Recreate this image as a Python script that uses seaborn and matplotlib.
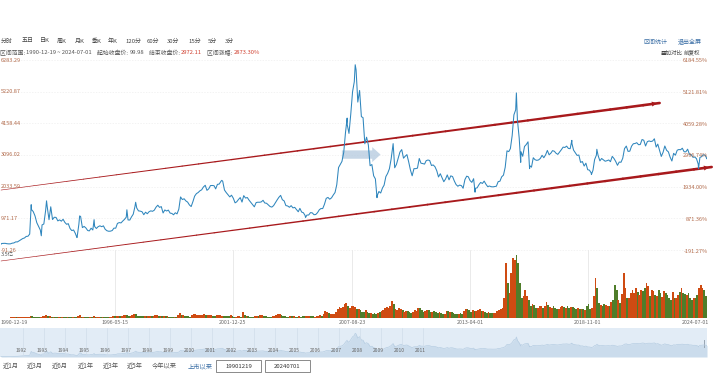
import numpy as np
import pandas as pd
import matplotlib
matplotlib.use("Agg")
import matplotlib.pyplot as plt
import matplotlib.dates as mdates
from matplotlib.collections import LineCollection
from matplotlib.patches import Rectangle
import seaborn as sns

# ---------------- data ----------------
start_date = "1990-12-19"
start_close = 99.98
end_date = "2024-07-01"
end_close = 2972.11
dec1990_close = 127.61

price_1990s = [
    129.97, 133.05, 120.19, 113.94, 114.83, 137.56, 145.54, 180.92, 180.19, 218.60, 259.60, 292.75,
    313.24, 364.22, 370.18, 445.17, 1265.67, 1197.69, 1052.94, 824.94, 703.79, 578.97, 750.46, 780.39,
    1230.47, 1358.78, 925.91, 1358.74, 930.15, 1007.01, 1002.36, 884.79, 919.27, 875.44, 939.71, 833.80,
    770.07, 792.37, 630.20, 560.21, 580.12, 467.29, 333.92, 773.88, 1033.47, 660.70, 700.01, 647.87,
    562.59, 549.26, 640.19, 580.61, 700.51, 630.58, 691.29, 720.01, 691.20, 718.68, 603.99, 555.29,
    537.35, 540.91, 560.89, 642.24, 640.45, 800.78, 828.28, 817.43, 880.04, 937.56, 1010.47, 917.02,
    914.06, 1016.97, 1109.54, 1367.11, 1317.48, 1221.35, 1212.52, 1191.86, 1093.00, 1177.51, 1125.10, 1194.10,
    1222.24, 1206.54, 1243.86, 1343.44, 1411.16, 1339.21, 1364.00, 1150.54, 1252.45, 1217.28, 1247.55, 1146.70,
    1134.67, 1090.08, 1158.05, 1120.44, 1279.32, 1689.42, 1601.99, 1627.31, 1556.31, 1514.65, 1421.48, 1366.58,
]
price_2000s = [
    1534.99, 1714.58, 1800.22, 1836.32, 1894.55, 1928.10, 2023.51, 2079.86, 1910.16, 1961.28, 2070.62, 2073.48,
    2065.59, 1959.18, 2112.78, 2119.18, 2214.26, 2218.03, 1920.32, 1834.06, 1764.87, 1689.87, 1747.41, 1645.97,
    1490.92, 1524.71, 1603.02, 1667.75, 1515.73, 1732.95, 1650.84, 1669.62, 1581.61, 1507.90, 1431.48, 1357.65,
    1499.81, 1511.93, 1510.53, 1521.15, 1576.26, 1486.02, 1476.74, 1421.40, 1367.16, 1348.30, 1397.23, 1497.04,
    1590.73, 1675.07, 1741.62, 1595.59, 1555.91, 1399.16, 1386.20, 1342.06, 1396.70, 1320.54, 1340.77, 1266.50,
    1191.82, 1306.00, 1181.24, 1159.15, 1060.74, 1080.94, 1083.03, 1162.80, 1155.61, 1092.82, 1099.26, 1161.06,
    1258.05, 1299.03, 1298.29, 1440.22, 1641.30, 1672.21, 1612.73, 1658.64, 1752.42, 1837.99, 2099.29, 2675.47,
    2786.34, 2881.07, 3183.98, 3841.27, 4109.65, 3820.70, 4471.03, 5218.83, 5552.30, 5954.77, 4871.78, 5261.56,
    4383.39, 4348.54, 3472.71, 3693.11, 3433.35, 2736.10, 2775.72, 2397.37, 2293.78, 1728.79, 1871.16, 1820.81,
    1990.66, 2082.85, 2373.21, 2477.57, 2632.93, 2959.36, 3412.06, 2667.74, 2779.43, 2995.85, 3195.30, 3277.14,
]
price_2010s = [
    2989.29, 3051.94, 3109.10, 2870.61, 2592.15, 2398.37, 2637.50, 2638.80, 2655.66, 2978.83, 2820.18, 2808.08,
    2790.69, 2905.05, 2928.11, 2911.51, 2743.47, 2762.08, 2701.73, 2567.34, 2359.22, 2468.25, 2333.41, 2199.42,
    2292.61, 2428.49, 2262.79, 2396.32, 2372.23, 2225.43, 2103.63, 2047.52, 2086.17, 2068.88, 1980.12, 2269.13,
    2385.42, 2365.59, 2236.62, 2177.91, 2300.59, 1979.21, 1993.80, 2098.38, 2174.67, 2141.61, 2220.50, 2115.98,
    2033.08, 2056.30, 2033.31, 2026.36, 2039.21, 2048.33, 2201.56, 2217.20, 2363.87, 2420.18, 2682.83, 3234.68,
    3210.36, 3310.30, 3747.90, 4441.66, 4611.74, 4277.22, 3663.73, 3205.99, 3052.78, 3382.56, 3445.40, 3539.18,
    2737.60, 2687.98, 3003.92, 2938.32, 2916.62, 2929.61, 2979.34, 3085.49, 3004.70, 3100.49, 3250.03, 3103.64,
    3159.17, 3241.73, 3222.51, 3154.66, 3117.18, 3192.43, 3273.03, 3360.81, 3348.94, 3393.34, 3317.19, 3307.17,
    3480.83, 3259.41, 3168.90, 3082.23, 3095.47, 2847.42, 2876.40, 2725.25, 2821.35, 2602.78, 2588.19, 2493.90,
    2584.57, 2940.95, 3090.76, 3078.34, 2898.70, 2978.88, 2932.51, 2886.24, 2905.19, 2929.06, 2871.98, 3050.12,
]
price_2020s = [
    2976.53, 2880.30, 2750.30, 2860.08, 2852.35, 2984.67, 3310.01, 3395.68, 3218.05, 3224.53, 3391.76, 3473.07,
    3483.07, 3509.08, 3441.91, 3446.86, 3615.48, 3591.20, 3397.36, 3543.94, 3568.17, 3547.34, 3563.89, 3639.78,
    3361.44, 3462.31, 3252.20, 3047.06, 3186.43, 3398.62, 3253.24, 3202.14, 3024.39, 2893.48, 3151.34, 3089.26,
    3255.67, 3279.61, 3272.86, 3323.28, 3204.56, 3202.06, 3291.04, 3119.88, 3110.48, 3018.77, 3029.67, 2974.93,
    2788.55, 3015.17, 3041.17, 3104.82, 3086.81, 2967.40,
]
# intra-month extremes
extreme_dates = ["1992-05-26", "1992-11-17", "1993-02-16", "1994-07-29", "1994-09-13", "1995-05-22",
                 "1996-12-11", "1997-05-12", "2001-06-14", "2005-06-06", "2007-05-29", "2007-10-16",
                 "2008-10-28", "2009-08-04", "2013-06-25", "2015-06-12", "2015-08-26", "2016-01-27",
                 "2018-01-29", "2019-01-04", "2019-04-08", "2024-02-05"]
extreme_values = [1429, 386, 1558, 325, 1052, 926, 1258, 1510, 2245, 998, 4335, 6124,
                  1664, 3478, 1849, 5178, 2850, 2638, 3587, 2440, 3288, 2635]

# monthly volume (relative units, 亿)
volume_1990s = [
    0.5,
    0.5, 0.5, 0.5, 0.5, 0.5, 0.6, 0.6, 0.8, 0.8, 0.8, 1.0, 1.0,
    1.0, 1.0, 1.0, 1.5, 2.5, 2.0, 1.5, 1.5, 1.5, 1.2, 1.5, 2.0,
    2.5, 3.0, 2.0, 2.0, 1.5, 1.5, 1.2, 1.5, 1.2, 1.0, 1.2, 1.0,
    1.0, 1.0, 1.0, 0.8, 0.8, 0.8, 1.0, 2.5, 3.0, 1.5, 1.2, 1.0,
    0.8, 0.8, 1.0, 0.8, 2.5, 1.2, 1.2, 1.2, 1.0, 1.0, 0.8, 0.8,
    0.8, 0.8, 1.0, 2.0, 2.5, 2.5, 2.5, 2.0, 2.5, 3.0, 3.0, 3.0,
    2.0, 2.5, 3.0, 4.0, 4.0, 2.5, 2.0, 2.0, 2.0, 2.0, 1.8, 1.8,
    2.0, 1.8, 2.5, 3.0, 3.0, 2.0, 2.0, 1.8, 2.0, 1.8, 1.8, 1.5,
    1.5, 1.2, 1.5, 1.5, 3.0, 5.0, 3.0, 3.0, 2.5, 2.0, 1.8, 1.5,
]
volume_2000s = [
    3.0, 4.0, 4.0, 3.5, 3.0, 3.0, 3.5, 4.0, 3.0, 3.0, 3.0, 3.0,
    2.5, 2.0, 3.0, 3.0, 3.0, 2.5, 2.0, 2.0, 1.8, 2.0, 3.0, 2.0,
    1.5, 1.5, 2.0, 2.0, 1.5, 6.0, 3.0, 2.5, 1.8, 1.5, 1.5, 1.5,
    2.0, 2.0, 2.0, 3.0, 3.0, 2.0, 2.0, 1.5, 1.5, 1.5, 2.0, 2.5,
    3.0, 4.0, 4.0, 3.0, 2.0, 1.8, 1.5, 1.5, 2.5, 1.8, 1.8, 1.5,
    1.2, 2.0, 1.5, 2.0, 1.8, 2.5, 1.8, 2.5, 2.5, 1.8, 1.5, 2.0,
    2.5, 3.0, 2.5, 4.0, 7.0, 6.0, 5.0, 4.0, 4.0, 4.5, 6.0, 9.0,
    11.0, 10.0, 11.0, 14.0, 15.0, 12.0, 10.0, 12.0, 12.0, 11.0, 9.0, 9.0,
    8.0, 6.0, 6.0, 8.0, 6.0, 5.0, 5.0, 4.0, 5.0, 4.0, 5.0, 6.0,
    7.0, 8.0, 10.0, 11.0, 10.0, 12.0, 17.0, 14.0, 9.0, 8.0, 10.0, 9.0,
]
volume_2010s = [
    8.0, 6.0, 7.0, 7.0, 6.0, 5.0, 6.0, 8.0, 7.0, 10.0, 10.0, 8.0,
    6.0, 7.0, 8.0, 8.0, 6.0, 6.0, 7.0, 6.0, 5.0, 6.0, 5.0, 4.0,
    4.0, 7.0, 7.0, 6.0, 6.0, 5.0, 4.0, 4.0, 4.0, 5.0, 4.0, 7.0,
    9.0, 9.0, 8.0, 6.0, 8.0, 7.0, 7.0, 8.0, 9.0, 7.0, 7.0, 6.0,
    5.0, 6.0, 5.0, 5.0, 5.0, 5.0, 7.0, 8.0, 9.0, 10.0, 20.0, 55.0,
    35.0, 25.0, 45.0, 60.0, 58.0, 63.0, 55.0, 35.0, 20.0, 22.0, 28.0, 22.0,
    18.0, 12.0, 14.0, 13.0, 10.0, 10.0, 12.0, 12.0, 10.0, 12.0, 16.0, 13.0,
    11.0, 10.0, 12.0, 10.0, 9.0, 9.0, 11.0, 12.0, 11.0, 10.0, 12.0, 10.0,
    11.0, 11.0, 10.0, 9.0, 10.0, 9.0, 9.0, 9.0, 8.0, 12.0, 14.0, 9.0,
    10.0, 22.0, 40.0, 30.0, 15.0, 13.0, 12.0, 14.0, 13.0, 12.0, 12.0, 16.0,
]
volume_2020s = [
    18.0, 33.0, 28.0, 18.0, 15.0, 24.0, 45.0, 30.0, 20.0, 20.0, 25.0, 28.0,
    25.0, 30.0, 26.0, 23.0, 28.0, 27.0, 30.0, 35.0, 32.0, 22.0, 28.0, 27.0,
    23.0, 22.0, 28.0, 25.0, 21.0, 27.0, 25.0, 23.0, 20.0, 18.0, 26.0, 20.0,
    20.0, 23.0, 26.0, 30.0, 25.0, 24.0, 23.0, 25.0, 20.0, 18.0, 20.0, 20.0,
    23.0, 30.0, 33.0, 30.0, 28.0, 22.0,
]

left_ticks = [6283.29, 5220.87, 4158.44, 3096.02, 2033.59, 971.17, -91.26]
right_ticks = ["6184.55%", "5121.81%", "4059.28%", "2996.74%", "1934.00%", "871.36%", "-191.27%"]
date_tick_labels = ["1990-12-19", "1996-05-15", "2001-12-25", "2007-08-23", "2013-04-01", "2018-11-01", "2024-07-01"]
nav_years = list(range(1992, 2012))
period_buttons = ["分时", "五日", "日K", "周K", "月K", "季K", "年K", "120分", "60分", "30分", "15分", "5分", "3分"]
range_buttons = ["近1月", "近3月", "近6月", "近1年", "近3年", "近5年", "今年以来", "上市以来"]
info_labels = ["区间范围: ", "起始收盘价: ", "结束收盘价: ", "区间涨幅: "]
info_values = ["1990-12-19 ~ 2024-07-01", "99.98", f"{end_close:.2f}", "2873.30%"]

# trend channel annotations (date, value)
upper_trend = [("1990-12-19", 1920), ("2022-04-01", 4840)]
lower_trend = [("1990-12-19", -460), ("2024-09-20", 2693)]

# ---------------- build tables ----------------
monthly_prices = price_1990s + price_2000s + price_2010s + price_2020s
month_ends = pd.date_range("1991-01-31", periods=len(monthly_prices), freq="ME")
df_m = pd.DataFrame({"date": month_ends, "price": monthly_prices})
df_x = pd.DataFrame({"date": pd.to_datetime(extreme_dates), "price": extreme_values})
df_ends = pd.DataFrame({"date": pd.to_datetime([start_date, "1990-12-31", end_date]),
                        "price": [start_close, dec1990_close, end_close]})
df = pd.concat([df_ends, df_m, df_x]).sort_values("date").reset_index(drop=True)

vols = volume_1990s + volume_2000s + volume_2010s + volume_2020s
vol_dates = pd.date_range("1990-12-31", periods=len(vols), freq="ME")
vol_closes = [dec1990_close] + monthly_prices
vol_prev = [start_close] + vol_closes[:-1]
vol_up = [c >= p for c, p in zip(vol_closes, vol_prev)]
df_v = pd.DataFrame({"date": vol_dates - pd.Timedelta(days=15), "vol": vols, "up": vol_up})

# ---------------- figure ----------------
sns.set_theme(style="white")
plt.rcParams['font.family'] = ['Noto Sans CJK SC', 'DejaVu Sans']
plt.rcParams['axes.unicode_minus'] = False

W, H = 720, 380
fig = plt.figure(figsize=(7.2, 3.8), dpi=100)
fig.patch.set_facecolor("white")
renderer = fig.canvas.get_renderer()

def rect(x0, y0, x1, y1):
    return [x0 / W, 1 - y1 / H, (x1 - x0) / W, (y1 - y0) / H]

def ftext(x, y, s, **kw):
    return fig.text(x / W, 1 - y / H, s, **kw)

def twidth(t):
    return t.get_window_extent(renderer=renderer).width

x0d = pd.Timestamp(start_date)
x1d = pd.Timestamp(end_date)

# price axes: 6283.29 at y=60px, -91.26 at y=250px
pp = 190.0 / (6283.29 + 91.26)
ax = fig.add_axes(rect(1, 50, 707, 265))
ax.set_xlim(x0d, x1d)
ax.set_ylim(-91.26 - 15 / pp, 6283.29 + 10 / pp)
ax.axis("off")
for v in left_ticks:
    ax.axhline(v, color="#eeeeee", lw=0.5, ls=(0, (2, 2)), zorder=0)

# trend channel
def tapered(points, lw0, lw1, color):
    d = mdates.date2num(pd.to_datetime([points[0][0], points[1][0]]))
    v = [points[0][1], points[1][1]]
    n = 40
    xs = np.linspace(d[0], d[1], n + 1)
    ys = np.linspace(v[0], v[1], n + 1)
    segs = [[(xs[i], ys[i]), (xs[i + 1], ys[i + 1])] for i in range(n)]
    lws = np.linspace(lw0, lw1, n)
    lc = LineCollection(segs, colors=color, linewidths=lws, capstyle="round", zorder=3, clip_on=False)
    ax.add_collection(lc)
    ax.annotate("", xy=(xs[-1], ys[-1]), xytext=(xs[-3], ys[-3]),
                arrowprops=dict(arrowstyle="-|>", color=color, lw=0, mutation_scale=9),
                annotation_clip=False, zorder=4)

tapered(upper_trend, 0.4, 1.9, "#a8191c")
tapered(lower_trend, 0.4, 1.9, "#a8191c")

# light selection marker near 2007-2008
ax.annotate("", xy=(mdates.date2num(pd.Timestamp("2009-02-15")), 3110),
            xytext=(mdates.date2num(pd.Timestamp("2007-01-10")), 3110),
            arrowprops=dict(arrowstyle="simple,head_width=0.9,head_length=0.5,tail_width=0.5",
                            color="#b3c9de", alpha=0.75, lw=0), zorder=2)

sns.lineplot(data=df, x="date", y="price", ax=ax, color="#2f86bd", linewidth=0.75, zorder=5)
ax.set_xlim(x0d, x1d)
ax.axis("off")

# axis labels
for v, r in zip(left_ticks, right_ticks):
    y = 60 + (6283.29 - v) * pp
    ftext(1, y, f"{v:.2f}", fontsize=4, color="#b26a4a", ha="left", va="center")
    ftext(708, y + 1, r, fontsize=4, color="#b26a4a", ha="right", va="center")
ftext(1, 255, "3.5亿", fontsize=4, color="#555555", ha="left", va="center")

# volume axes
axv = fig.add_axes(rect(1, 250, 707, 318))
axv.set_xlim(x0d, x1d)
axv.set_ylim(0, 68)
axv.axis("off")
for d in date_tick_labels[1:]:
    axv.axvline(pd.Timestamp(d), color="#e6e6e6", lw=0.6, zorder=0)
cols = np.where(df_v["up"], "#cf4b12", "#4f7d2a")
axv.bar(df_v["date"], df_v["vol"], width=31, color=cols, linewidth=0, zorder=2)

# date labels
for i, d in enumerate(date_tick_labels):
    xpx = 1 + (pd.Timestamp(d) - x0d) / (x1d - x0d) * 706
    ha = "left" if i == 0 else ("right" if i == len(date_tick_labels) - 1 else "center")
    if i == 0:
        xpx = 0
    if i == len(date_tick_labels) - 1:
        xpx = 709
    ftext(xpx, 323, d, fontsize=3.8, color="#666666", ha=ha, va="center")

# navigator
axn = fig.add_axes(rect(0, 328, 707, 357))
axn.set_xlim(x0d - pd.Timedelta(days=17), x1d)
axn.set_ylim(0, 7500)
axn.set_facecolor("#e2ecf6")
for s in axn.spines.values():
    s.set_visible(False)
axn.set_xticks([])
axn.set_yticks([])
axn.fill_between(df["date"], df["price"], color="#cbdcec", lw=0)
axn.plot(df["date"], df["price"], color="#b6cde2", lw=0.5)
for yv in nav_years:
    axn.axvline(pd.Timestamp(f"{yv}-01-01"), color="#d0ddea", lw=0.5)
    xpx = 1 + (pd.Timestamp(f"{yv}-01-01") - x0d) / (x1d - x0d) * 706
    ftext(xpx - 2, 350, str(yv), fontsize=3.6, color="#666666", ha="center", va="center")
axn.add_patch(Rectangle((mdates.date2num(x1d - pd.Timedelta(days=60)), 2200), 25, 2200,
                        color="#9aa7b4", lw=0))

# header row 1
btn_x = [1, 22, 40, 57, 75, 92, 108, 125, 147, 167, 188, 208, 225]
for s, xp in zip(period_buttons, btn_x):
    ftext(xp, 41, s, fontsize=4.3, color="#444444", ha="left", va="center")
# header row 2 (laid out sequentially)
xcur = 0
for i, (lab, val) in enumerate(zip(info_labels, info_values)):
    t = ftext(xcur, 53, lab, fontsize=4.2, color="#555555", ha="left", va="center")
    xcur += twidth(t)
    vc = "#d04030" if i >= 2 else "#555555"
    t2 = ftext(xcur, 53, val, fontsize=4.2, color=vc, ha="left", va="center")
    xcur += twidth(t2) + 5
ftext(643, 42, "区间统计", fontsize=4.3, color="#3a6ea5", ha="left", va="center")
ftext(678, 42, "退出全屏", fontsize=4.3, color="#3a6ea5", ha="left", va="center")
ftext(661, 53, "叠加对比", fontsize=4, color="#444444", ha="left", va="center")
ftext(684, 53, "前复权", fontsize=4, color="#444444", ha="left", va="center")

# bottom range buttons
rb_x = [3, 27, 52, 78, 103, 127, 152, 188]
for s, xp in zip(range_buttons, rb_x):
    c = "#3a6ea5" if s == "上市以来" else "#555555"
    ftext(xp, 366, s, fontsize=4.5, color=c, ha="left", va="center")
for (bx0, bx1, s) in [(216, 261, "19901219"), (265, 310, "20240701")]:
    r = Rectangle((bx0 / W, 1 - 372 / H), (bx1 - bx0) / W, 12 / H, transform=fig.transFigure,
                  fill=False, edgecolor="#777777", lw=0.6)
    fig.patches.append(r)
    ftext((bx0 + bx1) / 2, 366, s, fontsize=4.3, color="#333333", ha="center", va="center")

fig.savefig("out.png", dpi=100, facecolor="white")
